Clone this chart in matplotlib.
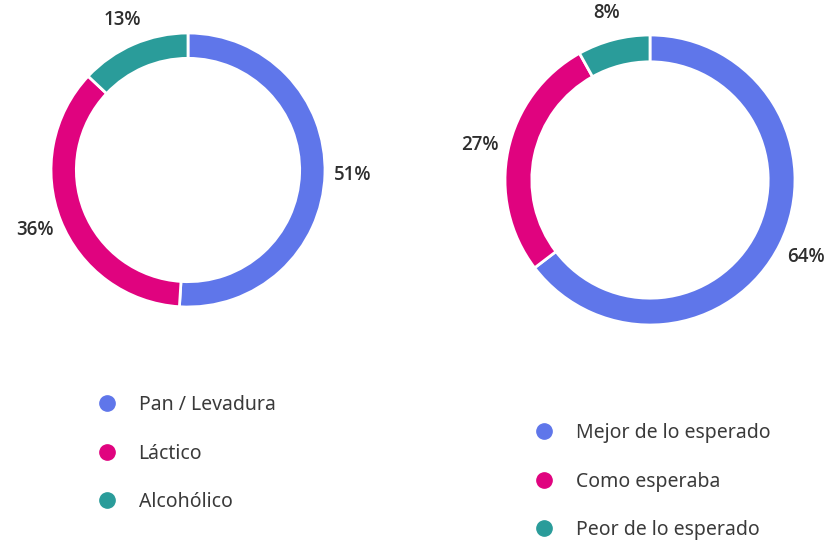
import numpy as np
import matplotlib.pyplot as plt
from matplotlib.lines import Line2D

plt.rcParams['font.family'] = ['Noto Sans', 'DejaVu Sans']

# data
left_labels = ['Pan / Levadura', 'Láctico', 'Alcohólico']
left_values = [51, 36, 13]
right_labels = ['Mejor de lo esperado', 'Como esperaba', 'Peor de lo esperado']
right_values = [64, 27, 8]
colors = ['#5F76EA', '#E0037F', '#2A9C9A']

W, H = 834, 542
fig = plt.figure(figsize=(W / 100, H / 100), dpi=100)


def donut(cx, cy, r, values, labels, leg_x, leg_y):
    # axes placed in pixel coordinates (origin top-left)
    ax = fig.add_axes([(cx - r) / W, 1 - (cy + r) / H, 2 * r / W, 2 * r / H])
    wedges, _ = ax.pie(values, colors=colors, startangle=90, counterclock=False,
                       radius=1, wedgeprops=dict(width=0.185, edgecolor='white', linewidth=2))
    ax.set_xlim(-1, 1)
    ax.set_ylim(-1, 1)
    for w, v in zip(wedges, values):
        ang = np.deg2rad((w.theta1 + w.theta2) / 2)
        ax.text(1.2 * np.cos(ang), 1.19 * np.sin(ang), f'{v}%', ha='center', va='center',
                fontsize=13.5, fontweight='semibold', family=['Open Sans', 'DejaVu Sans'],
                color='#2e2e2e')
    handles = [Line2D([], [], marker='o', linestyle='', markersize=11,
                      markerfacecolor=c, markeredgecolor=c) for c in colors]
    fig.legend(handles, labels, loc='upper left', bbox_to_anchor=(leg_x / W, 1 - leg_y / H),
               frameon=False, fontsize=14, labelcolor='#3a3a3a', labelspacing=1.47,
               handletextpad=0.6, borderaxespad=0, borderpad=0)


donut(188, 170, 137, left_values, left_labels, 88, 395)
donut(650, 180, 145, right_values, right_labels, 525, 423)

plt.savefig('out.png', dpi=100, facecolor='white')
